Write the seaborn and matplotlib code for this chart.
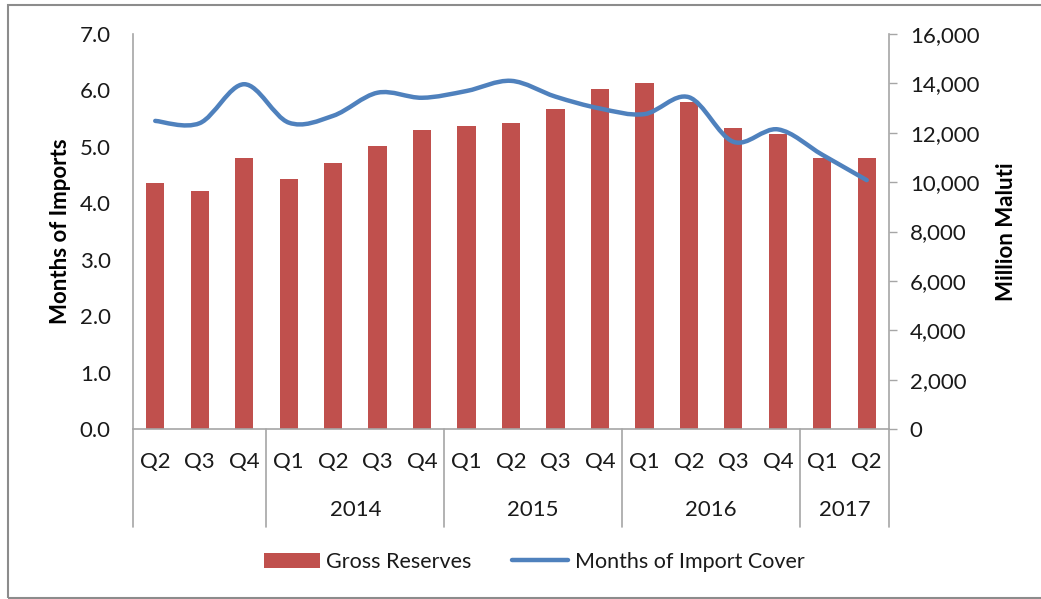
"""Gross reserves and months of import cover, Q2 2013 - Q2 2017."""

import matplotlib

matplotlib.use("Agg")

import matplotlib.pyplot as plt
import numpy as np
import pandas as pd
import seaborn as sns
from matplotlib.lines import Line2D
from matplotlib.patches import Patch, PathPatch, Rectangle
from matplotlib.path import Path
from matplotlib.ticker import FuncFormatter
from matplotlib.transforms import blended_transform_factory

# data
years = ["2013"] * 3 + ["2014"] * 4 + ["2015"] * 4 + ["2016"] * 4 + ["2017"] * 2
quarters = ["Q2", "Q3", "Q4",
            "Q1", "Q2", "Q3", "Q4",
            "Q1", "Q2", "Q3", "Q4",
            "Q1", "Q2", "Q3", "Q4",
            "Q1", "Q2"]
gross_reserves = [9950, 9640, 10960, 10130, 10760, 11460, 12100, 12290, 12380,
                  12970, 13760, 14000, 13260, 12190, 11950, 10960, 10960]
import_cover = [5.46, 5.42, 6.11, 5.43, 5.55, 5.96, 5.87, 5.99, 6.17,
                5.89, 5.68, 5.58, 5.88, 5.09, 5.31, 4.86, 4.41]
year_labels = ["", "2014", "2015", "2016", "2017"]
group_sizes = [3, 4, 4, 4, 2]

BAR_RED = "#C0504D"
LINE_BLUE = "#4F81BD"
AXIS_GREY = "#A6A6A6"
TEXT = "#1a1a1a"
FS = 16


def smooth_path(xs, ys):
    """Bezier path through the points, in the style of Excel's smoothed line."""
    pts = np.column_stack([xs, ys]).astype(float)
    n = len(pts)
    verts = [pts[0]]
    codes = [Path.MOVETO]
    for i in range(n - 1):
        prev_pt = pts[i - 1] if i > 0 else pts[i]
        next_pt = pts[i + 2] if i + 2 < n else pts[i + 1]
        c1 = pts[i] + (pts[i + 1] - prev_pt) / 6.0
        c2 = pts[i + 1] - (next_pt - pts[i]) / 6.0
        verts += [c1, c2, pts[i + 1]]
        codes += [Path.CURVE4] * 3
    return Path(verts, codes)


sns.set_style("white")
plt.rcParams["font.family"] = ["Lato", "DejaVu Sans"]

df = pd.DataFrame({
    "period": [f"{y} {q}" for y, q in zip(years, quarters)],
    "reserves": gross_reserves,
    "cover": import_cover,
})

fig = plt.figure(figsize=(10.41, 5.99), dpi=100)
ax = fig.add_axes([133 / 1041, 1 - 429 / 599, (889 - 133) / 1041, (429 - 34) / 599])
ax2 = ax.twinx()
ax.set_zorder(ax2.get_zorder() + 1)
ax.patch.set_visible(False)

# bars on the right-hand axis
sns.barplot(data=df, x="period", y="reserves", ax=ax2, color=BAR_RED,
            width=0.41, saturation=1, edgecolor="none")
ax2.set_ylim(0, 16000)
ax2.set_yticks(np.arange(0, 16001, 2000))
ax2.yaxis.set_major_formatter(FuncFormatter(lambda v, _: f"{v:,.0f}"))
ax2.set_ylabel("Million Maluti", fontsize=FS, fontweight="bold", color="black",
               labelpad=12)
ax2.set_xlabel("")

# smoothed line on the left-hand axis
xpos = np.arange(len(df))
ax.add_patch(PathPatch(smooth_path(xpos, df["cover"]), fill=False,
                       edgecolor=LINE_BLUE, lw=3.2, capstyle="round",
                       joinstyle="round"))
ax.set_ylim(0, 7)
ax.set_yticks(np.arange(0, 7.01, 1.0))
ax.yaxis.set_major_formatter(FuncFormatter(lambda v, _: f"{v:.1f}"))
ax.set_ylabel("Months of Imports", fontsize=FS, fontweight="bold",
              color="black", labelpad=6)
ax.set_xlim(-0.5, len(df) - 0.5)
ax2.set_xlim(-0.5, len(df) - 0.5)

for a in (ax, ax2):
    a.set_xticks([])
    for side in a.spines:
        a.spines[side].set_visible(False)

ax.spines["left"].set_visible(True)
ax.spines["bottom"].set_visible(True)
ax2.spines["right"].set_visible(True)
for sp in (ax.spines["left"], ax.spines["bottom"], ax2.spines["right"]):
    sp.set_color(AXIS_GREY)
    sp.set_linewidth(1.2)

ax.tick_params(axis="y", length=0, pad=16, labelsize=FS, labelcolor=TEXT)
ax2.tick_params(axis="y", direction="out", length=6, width=1, color=AXIS_GREY,
                pad=9, labelsize=FS, labelcolor=TEXT)

# two-level category axis
trans = blended_transform_factory(ax.transData, ax.transAxes)
for i, q in enumerate(quarters):
    ax.text(i, -0.083, q, transform=trans, ha="center", va="center",
            fontsize=FS, color=TEXT)

edges = np.concatenate([[0], np.cumsum(group_sizes)]) - 0.5
for xe in edges:
    ax.add_line(Line2D([xe, xe], [0, -0.248], transform=trans, color=AXIS_GREY,
                       lw=1.2, clip_on=False))
for lab, lo, hi in zip(year_labels, edges[:-1], edges[1:]):
    ax.text((lo + hi) / 2, -0.205, lab, transform=trans, ha="center",
            va="center", fontsize=FS, color=TEXT)

# legend
handles = [
    Patch(facecolor=BAR_RED, edgecolor="none", label="Gross Reserves"),
    Line2D([], [], color=LINE_BLUE, lw=3.2, label="Months of Import Cover"),
]
fig.legend(handles=handles, loc="center", bbox_to_anchor=(0.513, 1 - 562 / 599),
           ncol=2, frameon=False, fontsize=15.5, handlelength=2.6,
           handleheight=0.7, columnspacing=1.9, handletextpad=0.3,
           labelcolor=TEXT)

# chart frame
fig.add_artist(Rectangle((8 / 1041, 1 / 599), 1.2, 1 - 6 / 599,
                         transform=fig.transFigure, fill=False,
                         edgecolor="#8c8c8c", lw=1.5))

fig.savefig("out.png", dpi=100)
plt.close(fig)
